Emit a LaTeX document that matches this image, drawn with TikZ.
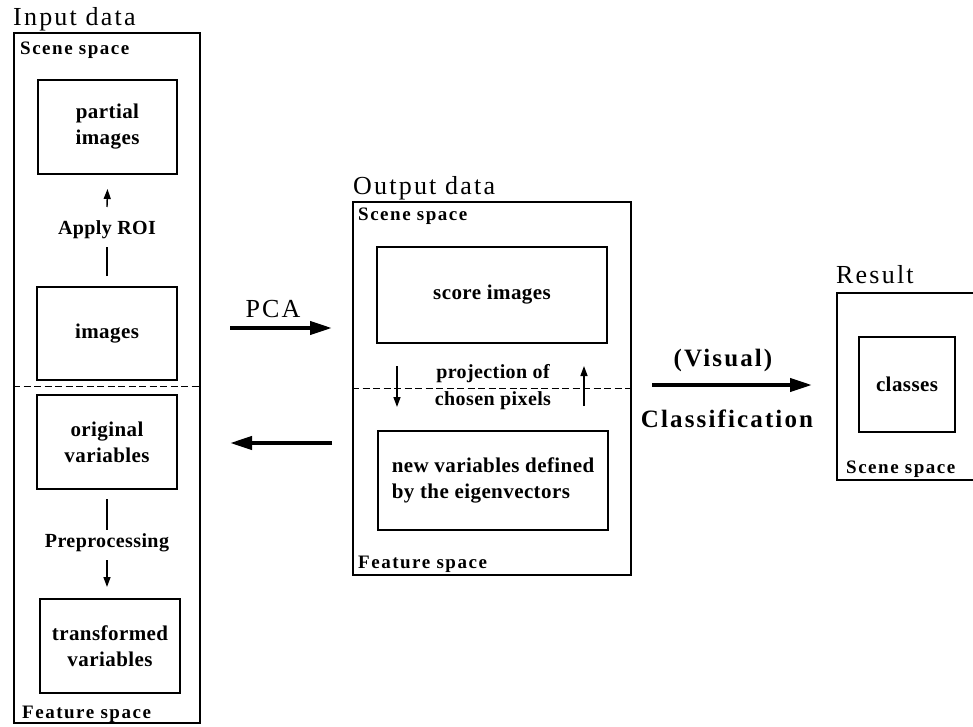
\documentclass[tikz,border=0pt]{standalone}
\usepackage{fontspec}
\setmainfont{Liberation Serif}
\newfontfamily\titlefont[LetterSpace=8.5]{Liberation Serif}
\newfontfamily\boxfont[LetterSpace=2]{Liberation Serif}
\newfontfamily\labelfont[LetterSpace=8]{Liberation Serif}
\usetikzlibrary{arrows.meta,calc}

\tikzset{
  frame/.style={draw, line width=2pt, inner sep=0pt, anchor=north west},
  databox/.style={draw, line width=2pt, inner sep=0pt, align=center,
    font=\boxfont\bfseries\fontsize{21}{26}\selectfont},
  heading/.style={inner sep=0pt, anchor=base west,
    font=\titlefont\fontsize{26}{30}\selectfont},
  flowlabel/.style={inner sep=0pt, anchor=base,
    font=\titlefont\fontsize{26}{30}\selectfont},
  boldflow/.style={flowlabel, font=\titlefont\bfseries\fontsize{25}{30}\selectfont},
  spacelabel/.style={inner sep=0pt, anchor=base west,
    font=\labelfont\bfseries\fontsize{19}{22}\selectfont},
  steplabel/.style={inner sep=0pt, align=center,
    font=\boxfont\bfseries\fontsize{20}{27}\selectfont},
  thinline/.style={line width=1.4pt},
  thinarrow/.style={line width=1.4pt, -{Triangle[length=10pt,width=7pt]}},
  bigarrow/.style={line width=4pt, -{Triangle[length=22pt,width=13pt]}},
  divider/.style={line width=1pt, dash pattern=on 7pt off 3.5pt}
}

\begin{document}
\begin{tikzpicture}[x=1pt, y=-1pt]
  \useasboundingbox (0,0) rectangle (973,727);

  % ---------- input data ----------
  \node[frame, minimum width=186pt, minimum height=690pt] (inframe) at (13,32) {};
  \node[heading] (intitle) at (13,26) {Input data};
  \node[spacelabel] (inscene) at (20,55) {Scene space};
  \node[spacelabel] (infeat) at (22,718) {Feature space};
  \draw[divider] (inframe.west |- 0,386) -- (inframe.east |- 0,386);

  \node[databox, minimum width=139pt, minimum height=94pt] (partial) at (107.5,127) {partial\\images};
  \node[databox, minimum width=140pt, minimum height=93pt] (images) at (107,333.5) {images};
  \node[databox, minimum width=140pt, minimum height=94pt] (orig) at (107,442) {original\\variables};
  \node[databox, minimum width=140pt, minimum height=94pt] (trans) at (110,646) {transformed\\variables};

  \node[steplabel] (roi) at (107,230) {Apply ROI};
  \node[steplabel] (pre) at (107,543) {Preprocessing};

  \draw[thinline] ([yshift=10pt]images.north) -- ([yshift=-17pt]roi.center);
  \draw[thinarrow] ([yshift=23pt]roi.center) -- ([yshift=-14pt]partial.south);
  \draw[thinline] ([yshift=-9pt]orig.south) -- ([yshift=13pt]pre.center);
  \draw[thinarrow] ([yshift=-17pt]pre.center) -- ([xshift=-3pt,yshift=11pt]trans.north);

  % ---------- output data ----------
  \node[frame, minimum width=278pt, minimum height=373pt] (outframe) at (352,201) {};
  \node[heading] (outtitle) at (353,195) {Output data};
  \node[spacelabel] (outscene) at (358,221) {Scene space};
  \node[spacelabel] (outfeat) at (358,568) {Feature space};
  \draw[divider] (outframe.west |- 0,388) -- (outframe.east |- 0,388);

  \node[databox, minimum width=230pt, minimum height=96pt] (score) at (492,295) {score images};
  \node[databox, minimum width=230pt, minimum height=99pt, align=left] (newvar) at (493,480.5)
    {new variables defined\\by the eigenvectors};
  \node[steplabel] (proj) at (493,387) {projection of\\chosen pixels};

  \draw[thinarrow] ([xshift=-95pt,yshift=-22pt]score.south) -- ([xshift=-96pt,yshift=23pt]newvar.north);
  \draw[thinarrow] ([xshift=91pt,yshift=24pt]newvar.north) -- ([xshift=92pt,yshift=-22pt]score.south);

  % ---------- result ----------
  \node[frame, minimum width=150pt, minimum height=187pt] (resframe) at (836,292) {};
  \node[heading] (restitle) at (836,283) {Result};
  \node[spacelabel] (resscene) at (846,473) {Scene space};
  \node[databox, minimum width=96pt, minimum height=95pt] (classes) at (907,384.5) {classes};

  % ---------- transitions ----------
  \coordinate (pcalevel) at (0,328);
  \coordinate (backlevel) at (0,443);
  \coordinate (clslevel) at (0,385);
  \draw[bigarrow] ([xshift=29pt]inframe.east |- pcalevel) -- ([xshift=-20pt]outframe.west |- pcalevel);
  \draw[bigarrow] ([xshift=-20pt]outframe.west |- backlevel) -- ([xshift=29pt]inframe.east |- backlevel);
  \draw[bigarrow] ([xshift=20pt]outframe.east |- clslevel) -- ([xshift=-24pt]resframe.west |- clslevel);

  \node[flowlabel] (pca) at (273,317) {PCA};
  \node[boldflow] (visual) at (723,366) {(Visual)};
  \node[boldflow] (classif) at (727,427) {Classification};
\end{tikzpicture}
\end{document}
